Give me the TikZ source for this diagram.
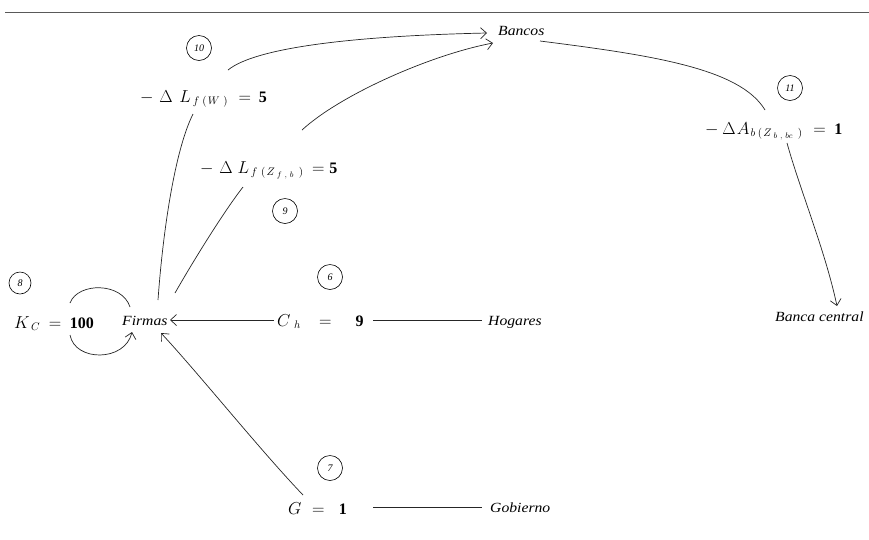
\documentclass[tikz,border=0pt]{standalone}
\usepackage{fontspec}
\setmainfont{Liberation Serif}
\newfontfamily\lblfont{Liberation Serif}[FakeStretch=1.12]
\usetikzlibrary{arrows.meta}
\begin{document}
\begin{tikzpicture}[x=1pt,y=-1pt,
  lbl/.style={font=\fontsize{14}{16}\lblfont\itshape, inner sep=0pt, anchor=base west},
  eq/.style={font=\fontsize{16}{18}\selectfont, inner sep=0pt, anchor=base west},
  badge/.style={draw, circle, minimum size=25pt, inner sep=0pt, line width=0.6pt, font=\fontsize{10}{12}\selectfont\itshape},
  conn/.style={line width=0.7pt, draw=black!85},
  arr/.style={conn, -{Straight Barb[length=6pt,width=11pt]}}
]
\useasboundingbox (0,0) rectangle (869,539);
\draw[line width=1.6pt, black!65] (5,12.5) -- (869,12.5);

% text nodes
\node[lbl] (bancos) at (498,35) {Bancos};
\node[lbl] (firmas) at (122,325) {Firmas};
\node[lbl] (hogares) at (488,325) {Hogares};
\node[lbl] (central) at (775,321) {Banca central};
\node[lbl] (gob) at (490,512) {Gobierno};

\node[eq] (kc) at (14,328) {$K_{\mkern4mu C}\mkern4mu=\mkern4mu\mathbf{100}$};
\node[eq] (ch) at (277,326) {$C_{\mkern8mu h}\mkern14mu=\mkern20mu\mathbf{9}$};
\node[eq] (g) at (288,514) {$G\mkern6mu=\mkern10mu\mathbf{1}$};
\node[eq] (lfw) at (140,102) {$-\mkern6mu\Delta\mkern7mu L_{\mkern3mu f\mkern5mu(\mkern2mu W\mkern6mu)}\mkern6mu=\mkern3mu\mathbf{5}$};
\node[eq] (lfz) at (200,173) {$-\mkern6mu\Delta\mkern5mu L_{\mkern3mu f\mkern6mu(\mkern2mu Z_{\mkern6mu f\mkern6mu,\mkern6mu b}\mkern8mu)}\mkern4mu=\mkern0mu\mathbf{5}$};
\node[eq] (ab) at (705,134) {$-\mkern4mu\Delta\mkern1mu A_{\mkern2mu b\mkern4mu(\mkern2mu Z_{\mkern6mu b\mkern6mu,\mkern6mu bc}\mkern8mu)}\mkern6mu=\mkern4mu\mathbf{1}$};

% circled numbers
\node[badge] (c10) at (199,48) {10};
\node[badge] (c9) at (285,211) {9};
\node[badge, minimum size=22pt] (c8) at (20,283) {8};
\node[badge] (c6) at (330,277) {6};
\node[badge] (c7) at (330,468) {7};
\node[badge] (c11) at (790,88) {11};

% connectors
\draw[arr] ([shift={(88,-32)}]lfw.base west) .. controls (255,48) and (350,36) .. ([shift={(-11,-2)}]bancos.base west);
\draw[arr] ([shift={(102,-43)}]lfz.base west) .. controls (340,95) and (430,55) .. ([shift={(-5,8)}]bancos.base west);
\draw[conn] ([shift={(36,-25)}]firmas.base west) .. controls (163,230) and (175,150) .. ([shift={(53,12)}]lfw.base west);
\draw[conn] ([shift={(53,-32)}]firmas.base west) .. controls (195,258) and (225,210) .. ([shift={(43,14)}]lfz.base west);
\draw[conn] ([shift={(42,6)}]bancos.base west) .. controls (650,55) and (740,68) .. ([shift={(60,-24)}]ab.base west);
\draw[arr] ([shift={(82,9)}]ab.base west) .. controls (800,190) and (825,250) .. ([shift={(62,-15)}]central.base west);
\draw[arr] ([shift={(-3,-6)}]ch.base west) -- ([shift={(48,-5)}]firmas.base west);
\draw[conn] ([shift={(96,-6)}]ch.base west) -- ([shift={(-6,-5)}]hogares.base west);
\draw[arr] ([shift={(15,-19)}]g.base west) .. controls (260,450) and (200,375) .. ([shift={(39,8)}]firmas.base west);
\draw[conn] ([shift={(85,-7)}]g.base west) -- ([shift={(-8,-5)}]gob.base west);
% self loop
\draw[conn] ([shift={(56,-25)}]kc.base west) .. controls (78,282) and (122,282) .. ([shift={(8,-18)}]firmas.base west);
\draw[arr] ([shift={(56,7)}]kc.base west) .. controls (75,362) and (125,362) .. ([shift={(10,7)}]firmas.base west);
\end{tikzpicture}
\end{document}
